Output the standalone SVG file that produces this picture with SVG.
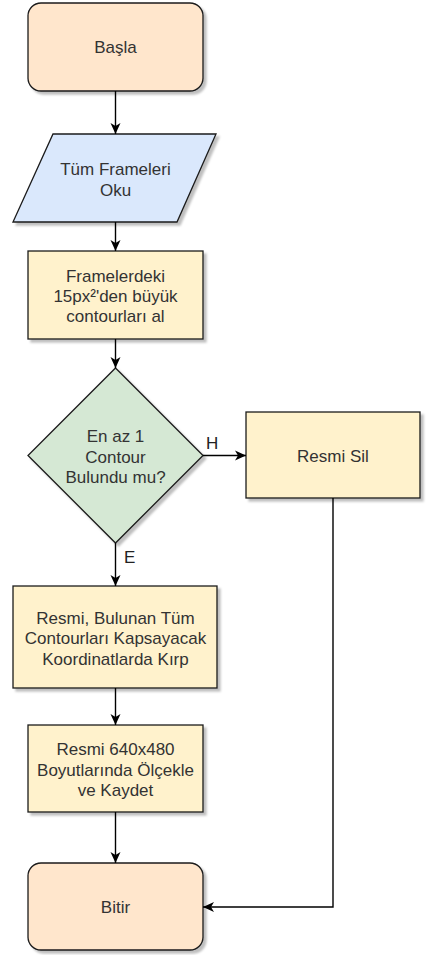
<svg xmlns="http://www.w3.org/2000/svg" width="426" height="955" viewBox="0 0 426 955">
  <style>
    .shape { stroke: #1a1a1a; stroke-width: 1.3; filter: url(#shadow); }
    .term { fill: #ffe6cc; }
    .io { fill: #dae8fc; }
    .proc { fill: #fff2cc; }
    .dec { fill: #d5e8d4; }
    text { font-family: "Liberation Sans", Arial, Helvetica, sans-serif; font-size: 17px; fill: #333333; text-anchor: middle; }
    .edge { fill: none; stroke: #000000; stroke-width: 1.4; marker-end: url(#arrow); }
    .lbl { text-anchor: start; fill: #222222; }
  </style>
  <defs>
    <filter id="shadow" x="-10%" y="-10%" width="130%" height="130%">
      <feDropShadow dx="3" dy="3" stdDeviation="1" flood-color="#000000" flood-opacity="0.25"/>
    </filter>
    <marker id="arrow" markerUnits="userSpaceOnUse" markerWidth="12" markerHeight="12" viewBox="0 0 12 12" refX="11" refY="6" orient="auto">
      <path d="M0,1 L11,6 L0,11 L3,6 Z" fill="#000000"/>
    </marker>
  </defs>

  <g id="start">
    <rect class="shape term" x="28" y="3" width="175" height="88" rx="13" ry="13"/>
    <text x="115.5" y="53">Başla</text>
  </g>

  <g id="read-frames">
    <polygon class="shape io" points="53,134 216,134 177,222 13,222"/>
    <text x="115.5" y="175">Tüm Frameleri</text>
    <text x="115.5" y="196">Oku</text>
  </g>

  <g id="get-contours">
    <rect class="shape proc" x="28" y="251" width="175" height="88"/>
    <text x="115.5" y="282">Framelerdeki</text>
    <text x="115.5" y="302">15px²'den büyük</text>
    <text x="115.5" y="322">contourları al</text>
  </g>

  <g id="check-contour">
    <polygon class="shape dec" points="115.5,368 203,455.5 115.5,543 28,455.5"/>
    <text x="115.5" y="442">En az 1</text>
    <text x="115.5" y="463">Contour</text>
    <text x="115.5" y="483">Bulundu mu?</text>
  </g>

  <g id="delete-image">
    <rect class="shape proc" x="246" y="412" width="174" height="86"/>
    <text x="333" y="462">Resmi Sil</text>
  </g>

  <g id="crop-image">
    <rect class="shape proc" x="13" y="586" width="204" height="102"/>
    <text x="115.5" y="624">Resmi, Bulunan Tüm</text>
    <text x="115.5" y="644">Contourları Kapsayacak</text>
    <text x="115.5" y="665">Koordinatlarda Kırp</text>
  </g>

  <g id="scale-save">
    <rect class="shape proc" x="28" y="725" width="175" height="87"/>
    <text x="115.5" y="755">Resmi 640x480</text>
    <text x="115.5" y="776">Boyutlarında Ölçekle</text>
    <text x="115.5" y="796">ve Kaydet</text>
  </g>

  <g id="end">
    <rect class="shape term" x="28" y="863" width="175" height="87" rx="13" ry="13"/>
    <text x="115.5" y="913">Bitir</text>
  </g>

  <g id="connectors">
    <path class="edge" d="M115.5,91 L115.5,134"/>
    <path class="edge" d="M115.5,222 L115.5,251"/>
    <path class="edge" d="M115.5,339 L115.5,368"/>
    <path class="edge" d="M203,455.5 L246,455.5"/>
    <path class="edge" d="M115.5,543 L115.5,586"/>
    <path class="edge" d="M115.5,688 L115.5,725"/>
    <path class="edge" d="M115.5,812 L115.5,863"/>
    <path class="edge" d="M333,498 L333,907 L203,907"/>
    <text class="lbl" x="206" y="449">H</text>
    <text class="lbl" x="124" y="563">E</text>
  </g>
</svg>
